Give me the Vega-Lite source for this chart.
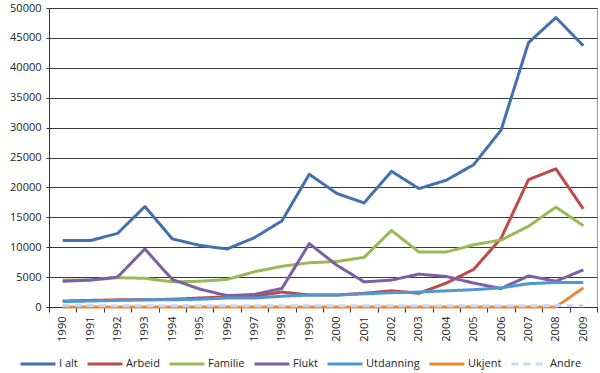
{
  "$schema": "https://vega.github.io/schema/vega-lite/v6.json",
  "autosize": {"type": "none"},
  "width": 548,
  "height": 299,
  "padding": {"left": 49, "top": 8, "right": 3, "bottom": 66},
  "background": "white",
  "config": {
    "font": "Open Sans",
    "view": {"stroke": "#9a9a9a", "strokeWidth": 1},
    "axis": {"labelFont": "Open Sans", "labelFontSize": 11, "labelColor": "#222", "title": null}
  },
  "data": {"values": [
    {"year":"1990","s":"I alt","v":11100},{"year":"1991","s":"I alt","v":11100},{"year":"1992","s":"I alt","v":12300},{"year":"1993","s":"I alt","v":16800},{"year":"1994","s":"I alt","v":11400},{"year":"1995","s":"I alt","v":10300},{"year":"1996","s":"I alt","v":9700},{"year":"1997","s":"I alt","v":11600},{"year":"1998","s":"I alt","v":14400},{"year":"1999","s":"I alt","v":22200},{"year":"2000","s":"I alt","v":19000},{"year":"2001","s":"I alt","v":17400},{"year":"2002","s":"I alt","v":22700},{"year":"2003","s":"I alt","v":19800},{"year":"2004","s":"I alt","v":21200},{"year":"2005","s":"I alt","v":23800},{"year":"2006","s":"I alt","v":29600},{"year":"2007","s":"I alt","v":44200},{"year":"2008","s":"I alt","v":48400},{"year":"2009","s":"I alt","v":43700},
    {"year":"1990","s":"Arbeid","v":1000},{"year":"1991","s":"Arbeid","v":1100},{"year":"1992","s":"Arbeid","v":1200},{"year":"1993","s":"Arbeid","v":1200},{"year":"1994","s":"Arbeid","v":1300},{"year":"1995","s":"Arbeid","v":1500},{"year":"1996","s":"Arbeid","v":1700},{"year":"1997","s":"Arbeid","v":1800},{"year":"1998","s":"Arbeid","v":2500},{"year":"1999","s":"Arbeid","v":2000},{"year":"2000","s":"Arbeid","v":2000},{"year":"2001","s":"Arbeid","v":2300},{"year":"2002","s":"Arbeid","v":2700},{"year":"2003","s":"Arbeid","v":2300},{"year":"2004","s":"Arbeid","v":4000},{"year":"2005","s":"Arbeid","v":6300},{"year":"2006","s":"Arbeid","v":11500},{"year":"2007","s":"Arbeid","v":21300},{"year":"2008","s":"Arbeid","v":23100},{"year":"2009","s":"Arbeid","v":16400},
    {"year":"1990","s":"Familie","v":4500},{"year":"1991","s":"Familie","v":4500},{"year":"1992","s":"Familie","v":4900},{"year":"1993","s":"Familie","v":4800},{"year":"1994","s":"Familie","v":4200},{"year":"1995","s":"Familie","v":4300},{"year":"1996","s":"Familie","v":4600},{"year":"1997","s":"Familie","v":5900},{"year":"1998","s":"Familie","v":6800},{"year":"1999","s":"Familie","v":7400},{"year":"2000","s":"Familie","v":7600},{"year":"2001","s":"Familie","v":8300},{"year":"2002","s":"Familie","v":12800},{"year":"2003","s":"Familie","v":9200},{"year":"2004","s":"Familie","v":9200},{"year":"2005","s":"Familie","v":10400},{"year":"2006","s":"Familie","v":11200},{"year":"2007","s":"Familie","v":13500},{"year":"2008","s":"Familie","v":16700},{"year":"2009","s":"Familie","v":13600},
    {"year":"1990","s":"Flukt","v":4300},{"year":"1991","s":"Flukt","v":4500},{"year":"1992","s":"Flukt","v":5000},{"year":"1993","s":"Flukt","v":9700},{"year":"1994","s":"Flukt","v":4600},{"year":"1995","s":"Flukt","v":3000},{"year":"1996","s":"Flukt","v":1900},{"year":"1997","s":"Flukt","v":2100},{"year":"1998","s":"Flukt","v":3100},{"year":"1999","s":"Flukt","v":10600},{"year":"2000","s":"Flukt","v":7000},{"year":"2001","s":"Flukt","v":4200},{"year":"2002","s":"Flukt","v":4500},{"year":"2003","s":"Flukt","v":5500},{"year":"2004","s":"Flukt","v":5100},{"year":"2005","s":"Flukt","v":4000},{"year":"2006","s":"Flukt","v":3100},{"year":"2007","s":"Flukt","v":5200},{"year":"2008","s":"Flukt","v":4300},{"year":"2009","s":"Flukt","v":6200},
    {"year":"1990","s":"Utdanning","v":900},{"year":"1991","s":"Utdanning","v":1000},{"year":"1992","s":"Utdanning","v":1100},{"year":"1993","s":"Utdanning","v":1200},{"year":"1994","s":"Utdanning","v":1200},{"year":"1995","s":"Utdanning","v":1300},{"year":"1996","s":"Utdanning","v":1500},{"year":"1997","s":"Utdanning","v":1500},{"year":"1998","s":"Utdanning","v":1800},{"year":"1999","s":"Utdanning","v":2000},{"year":"2000","s":"Utdanning","v":2000},{"year":"2001","s":"Utdanning","v":2200},{"year":"2002","s":"Utdanning","v":2400},{"year":"2003","s":"Utdanning","v":2500},{"year":"2004","s":"Utdanning","v":2700},{"year":"2005","s":"Utdanning","v":2900},{"year":"2006","s":"Utdanning","v":3200},{"year":"2007","s":"Utdanning","v":3900},{"year":"2008","s":"Utdanning","v":4100},{"year":"2009","s":"Utdanning","v":4100},
    {"year":"1990","s":"Ukjent","v":0},{"year":"1991","s":"Ukjent","v":0},{"year":"1992","s":"Ukjent","v":0},{"year":"1993","s":"Ukjent","v":0},{"year":"1994","s":"Ukjent","v":0},{"year":"1995","s":"Ukjent","v":0},{"year":"1996","s":"Ukjent","v":0},{"year":"1997","s":"Ukjent","v":0},{"year":"1998","s":"Ukjent","v":0},{"year":"1999","s":"Ukjent","v":0},{"year":"2000","s":"Ukjent","v":0},{"year":"2001","s":"Ukjent","v":0},{"year":"2002","s":"Ukjent","v":0},{"year":"2003","s":"Ukjent","v":0},{"year":"2004","s":"Ukjent","v":0},{"year":"2005","s":"Ukjent","v":0},{"year":"2006","s":"Ukjent","v":0},{"year":"2007","s":"Ukjent","v":0},{"year":"2008","s":"Ukjent","v":0},{"year":"2009","s":"Ukjent","v":3200},
    {"year":"1990","s":"Andre","v":300},{"year":"1991","s":"Andre","v":250},{"year":"1992","s":"Andre","v":200},{"year":"1993","s":"Andre","v":200},{"year":"1994","s":"Andre","v":200},{"year":"1995","s":"Andre","v":200},{"year":"1996","s":"Andre","v":200},{"year":"1997","s":"Andre","v":200},{"year":"1998","s":"Andre","v":200},{"year":"1999","s":"Andre","v":200},{"year":"2000","s":"Andre","v":200},{"year":"2001","s":"Andre","v":200},{"year":"2002","s":"Andre","v":200},{"year":"2003","s":"Andre","v":200},{"year":"2004","s":"Andre","v":200},{"year":"2005","s":"Andre","v":200},{"year":"2006","s":"Andre","v":200},{"year":"2007","s":"Andre","v":200},{"year":"2008","s":"Andre","v":250},{"year":"2009","s":"Andre","v":200}
  ]},
  "mark": {"type": "line", "strokeWidth": 3, "strokeJoin": "round"},
  "encoding": {
    "x": {
      "field": "year", "type": "ordinal",
      "scale": {"type": "band", "paddingInner": 0, "paddingOuter": 0},
      "axis": {"labelAngle": 270, "labelPadding": 4, "tickBand": "extent", "tickSize": 5, "tickColor": "#333", "domainColor": "#333", "grid": false}
    },
    "y": {
      "field": "v", "type": "quantitative",
      "scale": {"domain": [0, 50000], "nice": false},
      "axis": {"values": [0,5000,10000,15000,20000,25000,30000,35000,40000,45000,50000], "format": "d", "tickSize": 3, "tickColor": "#333", "domainColor": "#333", "labelPadding": 5, "gridColor": "#3a3a3a", "gridWidth": 1}
    },
    "color": {
      "field": "s", "type": "nominal", "sort": null,
      "scale": {"domain": ["I alt","Arbeid","Familie","Flukt","Utdanning","Ukjent","Andre"],
                "range": ["#4470AE","#BE4B48","#98B954","#7D5FA6","#4E97D4","#F08532","#C6D9F1"]},
      "legend": {"orient": "none", "legendX": -30, "legendY": 337, "direction": "horizontal", "gridAlign": "none", "title": null, "symbolType": "stroke", "symbolSize": 1225, "symbolStrokeWidth": 3, "labelFontSize": 11, "labelFont": "Open Sans", "labelColor": "#222", "labelOffset": 2, "columnPadding": 3}
    },
    "strokeDash": {
      "field": "s", "type": "nominal", "sort": null,
      "scale": {"domain": ["I alt","Arbeid","Familie","Flukt","Utdanning","Ukjent","Andre"],
                "range": [[1,0],[1,0],[1,0],[1,0],[1,0],[1,0],[7,5]]}
    }
  }
}
